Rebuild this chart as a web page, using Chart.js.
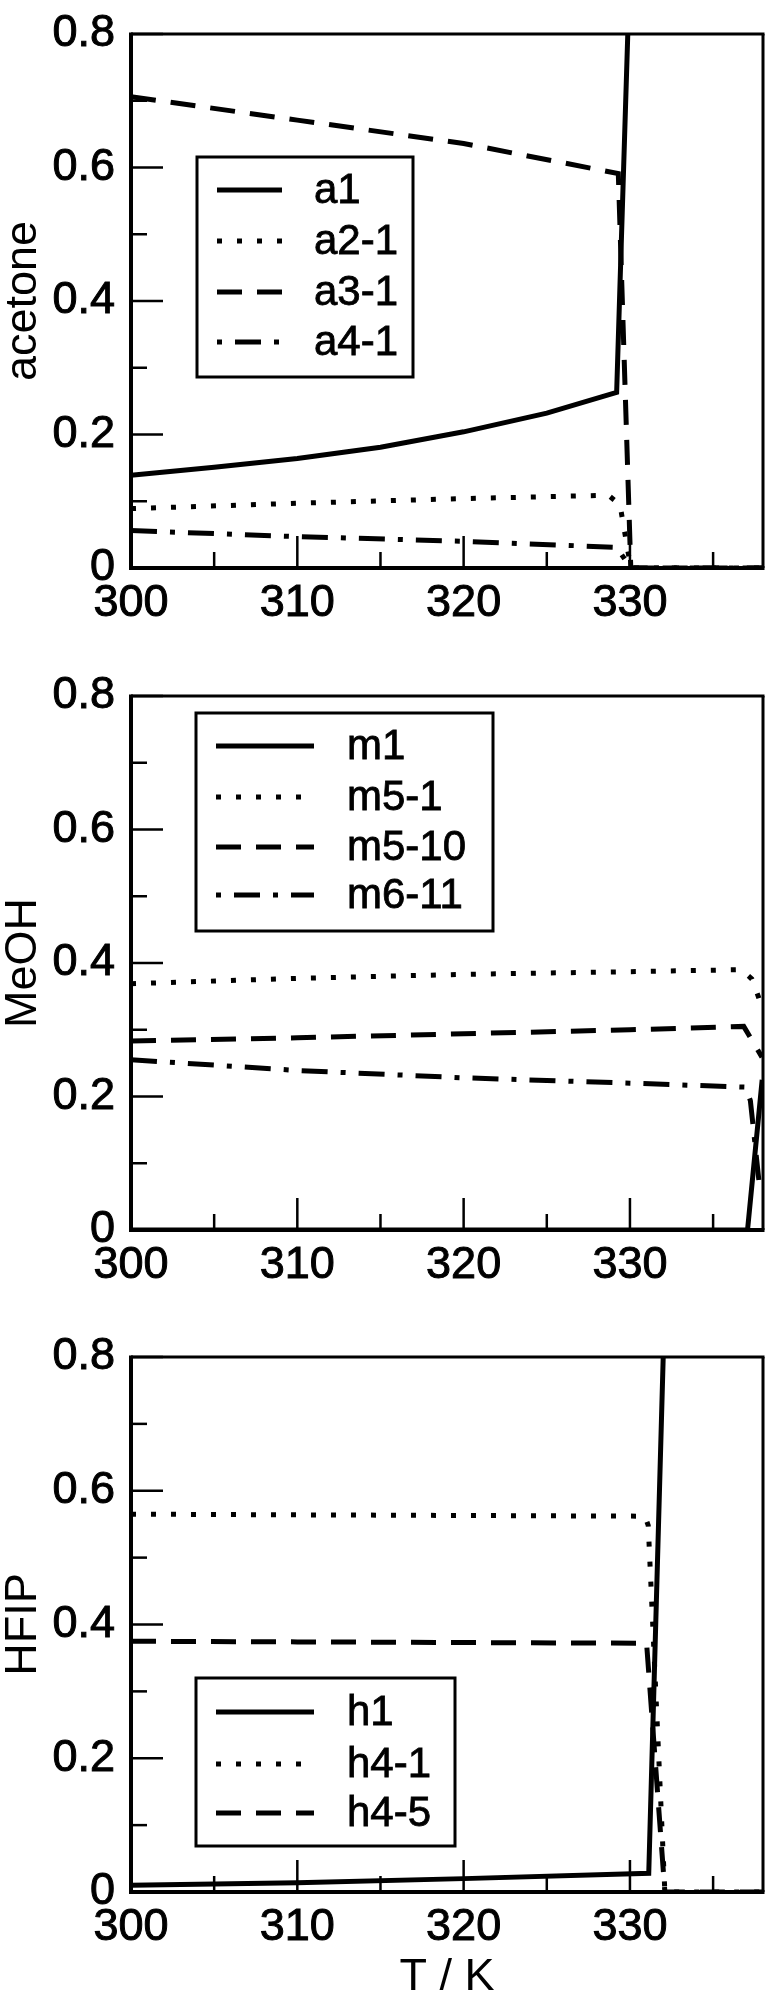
<!DOCTYPE html>
<html>
<head>
<meta charset="utf-8">
<script src="https://cdn.jsdelivr.net/npm/chart.js@4.4.1/dist/chart.umd.min.js"></script>
<style>
  html, body { margin: 0; padding: 0; background: #fff; overflow: hidden; }
  body { width: 768px; height: 1992px; position: relative; }
  .panel { position: absolute; left: 0; width: 768px; }
</style>
</head>
<body>
<div class="panel" style="top:0;height:662px"><canvas id="acetoneChart"></canvas></div>
<div class="panel" style="top:662px;height:661px"><canvas id="meohChart"></canvas></div>
<div class="panel" style="top:1323px;height:678px"><canvas id="hfipChart"></canvas></div>
<script>
// Axis ticks (shared by the three panels)
const xMajor = [300, 310, 320, 330];
const xMinor = [305, 315, 325, 335];
const xLabels = ['300', '310', '320', '330'];
const yMajor = [0, 0.2, 0.4, 0.6, 0.8];
const yMinor = [0.1, 0.3, 0.5, 0.7];
const yLabels = ['0', '0.2', '0.4', '0.6', '0.8'];

// acetone
const a1T = [300, 305, 310, 315, 320, 325, 329.2, 329.87];
const a1Y = [0.139, 0.151, 0.164, 0.181, 0.204, 0.232, 0.263, 0.8];
const a21T = [300, 310, 320, 328.7, 329.4, 330.05, 338];
const a21Y = [0.089, 0.097, 0.104, 0.109, 0.095, 0, 0];
const a31T = [300, 310, 320, 329.3, 330.05, 338];
const a31Y = [0.706, 0.671, 0.636, 0.591, 0, 0];
const a41T = [300, 310, 320, 329.2, 330.05, 338];
const a41Y = [0.056, 0.047, 0.040, 0.031, 0, 0];

// MeOH
const m1T = [300, 337.07, 337.95];
const m1Y = [0, 0, 0.225];
const m51T = [300, 310, 320, 330, 336.7, 337.33, 337.73, 337.95];
const m51Y = [0.369, 0.377, 0.383, 0.387, 0.390, 0.376, 0.349, 0.33];
const m510T = [300, 310, 320, 330, 336.84, 337.94];
const m510Y = [0.283, 0.288, 0.294, 0.300, 0.305, 0.259];
const m611T = [300, 310, 320, 330, 336.94, 337.24, 337.75];
const m611Y = [0.255, 0.239, 0.228, 0.220, 0.214, 0.194, 0.075];

// HFIP
const h1T = [300, 310, 320, 331.13, 332.0];
const h1Y = [0.010, 0.014, 0.020, 0.028, 0.8];
const h41T = [300, 310, 320, 330.9, 331.1, 332.1, 338];
const h41Y = [0.565, 0.564, 0.563, 0.562, 0.548, 0, 0];
const h45T = [300, 310, 320, 331.0, 332.1, 338];
const h45Y = [0.375, 0.374, 0.373, 0.372, 0, 0];

const FONT = '"Liberation Sans", Arial, Helvetica, sans-serif';
const SOLID = [];
const DOTTED = [5, 15];
const DASHED = [25, 15];
const DASHDOT = [26, 13, 5, 13];

const pts = (xs, ys) => xs.map((x, i) => ({ x: x, y: ys[i] }));

function series(label, xs, ys, dash, legendOffset) {
  return {
    label: label,
    data: pts(xs, ys),
    borderColor: '#000',
    borderWidth: 5,
    borderDash: dash,
    legendOffset: legendOffset || 0,
    pointRadius: 0,
    tension: 0,
    fill: false
  };
}

function seg(ctx, x1, y1, x2, y2) {
  ctx.beginPath();
  ctx.moveTo(x1, y1);
  ctx.lineTo(x2, y2);
  ctx.stroke();
}

// frame + inward ticks, positioned by the chart's own scales
const frameTicks = {
  id: 'frameTicks',
  afterDatasetsDraw(chart) {
    const { ctx, chartArea: a } = chart;
    const xs = chart.scales.x, ys = chart.scales.y;
    ctx.save();
    ctx.strokeStyle = '#000';
    ctx.setLineDash([]);
    ctx.lineWidth = 2.5;
    xMajor.forEach(v => { const p = xs.getPixelForValue(v); seg(ctx, p, a.bottom, p, a.bottom - 32); });
    xMinor.forEach(v => { const p = xs.getPixelForValue(v); seg(ctx, p, a.bottom, p, a.bottom - 16); });
    yMajor.forEach(v => { const p = ys.getPixelForValue(v); seg(ctx, a.left, p, a.left + 32, p); });
    yMinor.forEach(v => { const p = ys.getPixelForValue(v); seg(ctx, a.left, p, a.left + 16, p); });
    ctx.lineWidth = 3;
    seg(ctx, a.left, a.top, a.right + 1.5, a.top);
    seg(ctx, a.right, a.top, a.right, a.bottom);
    ctx.lineWidth = 4;
    seg(ctx, a.left, a.top - 1.5, a.left, a.bottom + 2);
    seg(ctx, a.left - 2, a.bottom, a.right + 1.5, a.bottom);
    ctx.restore();
  }
};

function boxLegend(cfg) {
  return {
    id: 'boxLegend',
    afterDraw(chart) {
      const ctx = chart.ctx;
      ctx.save();
      ctx.fillStyle = '#fff';
      ctx.fillRect(cfg.x, cfg.y, cfg.w, cfg.h);
      ctx.strokeStyle = '#000';
      ctx.lineWidth = 3;
      ctx.strokeRect(cfg.x, cfg.y, cfg.w, cfg.h);
      chart.data.datasets.forEach((ds, i) => {
        const yy = cfg.rows[i];
        ctx.lineWidth = ds.borderWidth;
        ctx.setLineDash(ds.borderDash);
        ctx.lineDashOffset = ds.legendOffset;
        seg(ctx, cfg.x1, yy, cfg.x2, yy);
        ctx.setLineDash([]);
        ctx.fillStyle = '#000';
        ctx.font = '42px ' + FONT;
        ctx.textBaseline = 'middle';
        ctx.textAlign = 'left';
        ctx.lineWidth = 0.8;
        ctx.fillText(ds.label, cfg.textX, yy + 1);
        ctx.strokeText(ds.label, cfg.textX, yy + 1);
      });
      ctx.restore();
    }
  };
}

function makeChart(id, yTitle, datasets, opt) {
  const tickFont = { family: FONT, size: 45, lineHeight: 0.8 };
  const titleFont = { family: FONT, size: 45, lineHeight: 1.05 };
  return new Chart(document.getElementById(id), {
    type: 'line',
    data: { datasets: datasets },
    plugins: [frameTicks, boxLegend(opt.legend)],
    options: {
      responsive: true,
      maintainAspectRatio: false,
      animation: false,
      devicePixelRatio: 1,
      layout: { padding: { top: opt.top, right: 5, left: 0, bottom: 0 } },
      plugins: { legend: { display: false }, tooltip: { enabled: false } },
      scales: {
        x: {
          type: 'linear',
          min: 300,
          max: 338,
          grid: { display: false, drawTicks: false },
          border: { display: false },
          afterBuildTicks: s => { s.ticks = xMajor.map(v => ({ value: v })); },
          afterFit: s => { s.height = opt.xHeight; },
          ticks: {
            autoSkip: false,
            maxRotation: 0,
            padding: 18,
            color: '#000',
            textStrokeColor: '#000',
            textStrokeWidth: 1,
            font: tickFont,
            callback: (v, i) => xLabels[i]
          },
          title: {
            display: !!opt.xTitle,
            text: opt.xTitle || '',
            color: '#000',
            font: titleFont,
            padding: 0
          }
        },
        y: {
          type: 'linear',
          min: 0,
          max: 0.8,
          grid: { display: false, drawTicks: false },
          border: { display: false },
          afterBuildTicks: s => { s.ticks = yMajor.map(v => ({ value: v })); },
          afterFit: s => { s.width = 131; },
          ticks: {
            autoSkip: false,
            padding: 16,
            color: '#000',
            textStrokeColor: '#000',
            textStrokeWidth: 1,
            font: tickFont,
            callback: (v, i) => yLabels[i]
          },
          title: {
            display: true,
            text: yTitle,
            color: '#000',
            font: titleFont,
            padding: 0
          }
        }
      }
    }
  });
}

makeChart('acetoneChart', 'acetone', [
  series('a1', a1T, a1Y, SOLID),
  series('a2-1', a21T, a21Y, DOTTED),
  series('a3-1', a31T, a31Y, DASHED),
  series('a4-1', a41T, a41Y, DASHDOT, 39)
], {
  top: 20, xHeight: 94,
  legend: { x: 197, y: 157, w: 216, h: 220, rows: [190, 241, 292, 342], x1: 217, x2: 282, textX: 314 }
});

makeChart('meohChart', 'MeOH', [
  series('m1', m1T, m1Y, SOLID),
  series('m5-1', m51T, m51Y, DOTTED),
  series('m5-10', m510T, m510Y, DASHED),
  series('m6-11', m611T, m611Y, DASHDOT, 39)
], {
  top: 19, xHeight: 93,
  legend: { x: 196, y: 51, w: 297, h: 218, rows: [84, 135, 185, 233], x1: 216, x2: 314, textX: 347 }
});

makeChart('hfipChart', 'HFIP', [
  series('h1', h1T, h1Y, SOLID),
  series('h4-1', h41T, h41Y, DOTTED),
  series('h4-5', h45T, h45Y, DASHED)
], {
  top: 21, xHeight: 109, xTitle: 'T / K',
  legend: { x: 196, y: 355, w: 259, h: 168, rows: [389, 441, 490], x1: 216, x2: 314, textX: 347 }
});
</script>
</body>
</html>
